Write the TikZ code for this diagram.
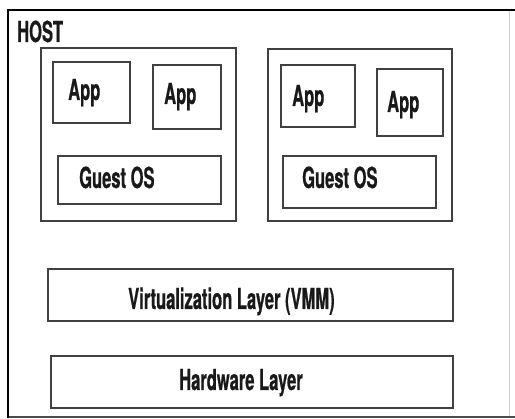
\documentclass[tikz,border=0pt]{standalone}
\usepackage{fontspec}
\newfontfamily\boxfont{TeX Gyre Heros}[FakeStretch=0.57,FakeBold=0.6]
\usepackage{tikz}
\usetikzlibrary{positioning}
\tikzset{
        frame/.style = { draw=black!75, line width=1.1pt },
      outline/.style = { black, line width=2.6pt },
      boxtext/.style = { anchor=base west, inner sep=0pt, text=black!90,
                         font=\boxfont\bfseries\fontsize{29}{29}\selectfont }
}
\begin{document}
\begin{tikzpicture}[x=1pt, y=-1pt]
  \useasboundingbox (0,0) rectangle (515,419);

  % host outline
  \draw[black!20,line width=0.6pt] (509,10) -- (509,417);
  \draw[black!70,line width=1.3pt] (8,417) -- (515,417);
  \draw[outline] (8,418) -- (8,10) -- (515,10);

  % guest machines
  \draw[frame] (41,48) rectangle (236,221);
  \draw[frame] (268,49) rectangle (452,221);

  % apps and guest os
  \draw[frame] (53,62) rectangle (130,123);
  \draw[frame] (153,65) rectangle (221,129);
  \draw[frame] (58,156) rectangle (221,204);

  \draw[frame] (281,65) rectangle (355,127);
  \draw[frame] (377,69) rectangle (443,136);
  \draw[frame] (283,156) rectangle (436,208);

  % layers
  \draw[frame] (48,269) rectangle (453,321);
  \draw[frame] (51,356) rectangle (453,408);

  \node (host) at(17,42) [boxtext] {HOST};

  \node (appA) at(68,100) [boxtext] {App};
  \node (appB) at(164,104) [boxtext] {App};
  \node (osA)  at(79,188) [boxtext] {Guest OS};

  \node (appC) at(292,106) [boxtext] {App};
  \node (appD) at(387,112) [boxtext] {App};
  \node (osB)  at(302,188) [boxtext] {Guest OS};

  \node (vmm) at(128,309) [boxtext] {Virtualization Layer (VMM)};
  \node (hw)  at(179,390) [boxtext] {Hardware Layer};
\end{tikzpicture}
\end{document}
